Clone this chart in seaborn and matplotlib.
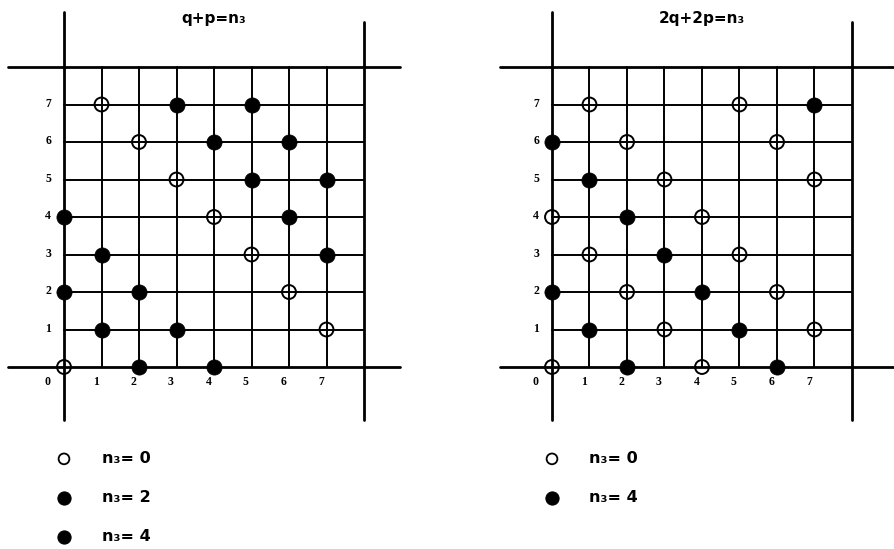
import numpy as np
import pandas as pd
import matplotlib
matplotlib.use("Agg")
import matplotlib.pyplot as plt
import seaborn as sns

sns.set_theme(style="white")
plt.rcParams['font.family'] = ['DejaVu Sans']
plt.rcParams['text.color'] = 'black'

# --- lattice points, q+p=n3 panel ---
left_n0_q = [0, 1, 2, 3, 4, 5, 6, 7]
left_n0_p = [0, 7, 6, 5, 4, 3, 2, 1]
left_n2_q = [2, 1, 0, 7, 6, 5, 4, 3]
left_n2_p = [0, 1, 2, 3, 4, 5, 6, 7]
left_n4_q = [4, 3, 2, 1, 0, 7, 6, 5]
left_n4_p = [0, 1, 2, 3, 4, 5, 6, 7]

# --- lattice points, 2q+2p=n3 panel ---
right_n0_q = [0, 4, 3, 7, 2, 6, 1, 5, 0, 4, 3, 7, 2, 6, 1, 5]
right_n0_p = [0, 0, 1, 1, 2, 2, 3, 3, 4, 4, 5, 5, 6, 6, 7, 7]
right_n4_q = [2, 6, 1, 5, 0, 4, 3, 2, 1, 0, 7]
right_n4_p = [0, 0, 1, 1, 2, 2, 3, 4, 5, 6, 7]

tick_labels = ["1", "2", "3", "4", "5", "6", "7"]
titles = ["q+p=n₃", "2q+2p=n₃"]
left_legend = ["n₃= 0", "n₃= 2", "n₃= 4"]
right_legend = ["n₃= 0", "n₃= 4"]

W, H = 895, 549
fig = plt.figure(figsize=(W / 100, H / 100), dpi=100)
unit = 37.5  # pixels per lattice step
y0_px = 367  # pixel row of p = 0


def make_axes(px_left, px_right, origin_x):
    ax = fig.add_axes([px_left / W, 0, (px_right - px_left) / W, 1])
    ax.set_xlim((px_left - origin_x) / unit, (px_right - origin_x) / unit)
    ax.set_ylim((y0_px - H) / unit, y0_px / unit)
    ax.axis("off")
    return ax


def draw_lattice(ax, h_ext, v0_top, v8_top, v_bottom):
    lw_in, lw_out = 1.4, 2.0
    for k in range(1, 8):
        ax.plot([0, 8], [k, k], color="black", lw=lw_in, zorder=1)
        ax.plot([k, k], [0, 8], color="black", lw=lw_in, zorder=1)
    for k in (0, 8):
        ax.plot(h_ext, [k, k], color="black", lw=lw_out, zorder=1)
    ax.plot([0, 0], [v_bottom, v0_top], color="black", lw=lw_out, zorder=1)
    ax.plot([8, 8], [v_bottom, v8_top], color="black", lw=lw_out, zorder=1)
    serif = dict(family="Liberation Serif", weight="bold", fontsize=8.5, color="black")
    for i, lab in enumerate(tick_labels, start=1):
        ax.text(-0.42, i + 0.02, lab, ha="center", va="center", **serif)
        ax.text(i - 0.15, -0.4, lab, ha="center", va="center", **serif)
    ax.text(-0.45, -0.4, "0", ha="center", va="center", **serif)


def points(ax, q, p, filled):
    df = pd.DataFrame({"q": q, "p": p})
    if filled:
        sns.scatterplot(data=df, x="q", y="p", ax=ax, s=120, marker="o",
                        color="black", edgecolor="black", linewidth=0.5,
                        zorder=3, legend=False)
    else:
        sns.scatterplot(data=df, x="q", y="p", ax=ax, s=100, marker="o",
                        facecolor="none", edgecolor="black", linewidth=1.4,
                        zorder=3, legend=False)


def legend(ax, labels, fills):
    ys = [-2.45, -3.49, -4.53]
    for lab, fill, y in zip(labels, fills, ys):
        df = pd.DataFrame({"q": [0], "p": [y]})
        if fill:
            sns.scatterplot(data=df, x="q", y="p", ax=ax, s=90, marker="o",
                            color="black", edgecolor="black", zorder=3, legend=False)
        else:
            sns.scatterplot(data=df, x="q", y="p", ax=ax, s=60, marker="o",
                            facecolor="none", edgecolor="black", linewidth=1.3,
                            zorder=3, legend=False)
        ax.text(1.0, y, lab, ha="left", va="center", fontsize=11.5,
                weight="bold", color="black")


# left panel
axL = make_axes(0, 447, 64)
draw_lattice(axL, [(8 - 64) / unit, (400 - 64) / unit], (367 - 12) / unit,
             (367 - 22) / unit, (367 - 420) / unit)
points(axL, left_n0_q, left_n0_p, False)
points(axL, left_n2_q, left_n2_p, True)
points(axL, left_n4_q, left_n4_p, True)
axL.text(4.0, (367 - 18) / unit, titles[0], ha="center", va="center",
         fontsize=11, weight="bold", color="black")
legend(axL, left_legend, [False, True, True])

# right panel
axR = make_axes(447, 895, 552)
draw_lattice(axR, [(500 - 552) / unit, (895 - 552) / unit], (367 - 12) / unit,
             (367 - 22) / unit, (367 - 420) / unit)
points(axR, right_n0_q, right_n0_p, False)
points(axR, right_n4_q, right_n4_p, True)
axR.text(4.0, (367 - 18) / unit, titles[1], ha="center", va="center",
         fontsize=11, weight="bold", color="black")
legend(axR, right_legend, [False, True])

fig.savefig("out.png", dpi=100, facecolor="white")
